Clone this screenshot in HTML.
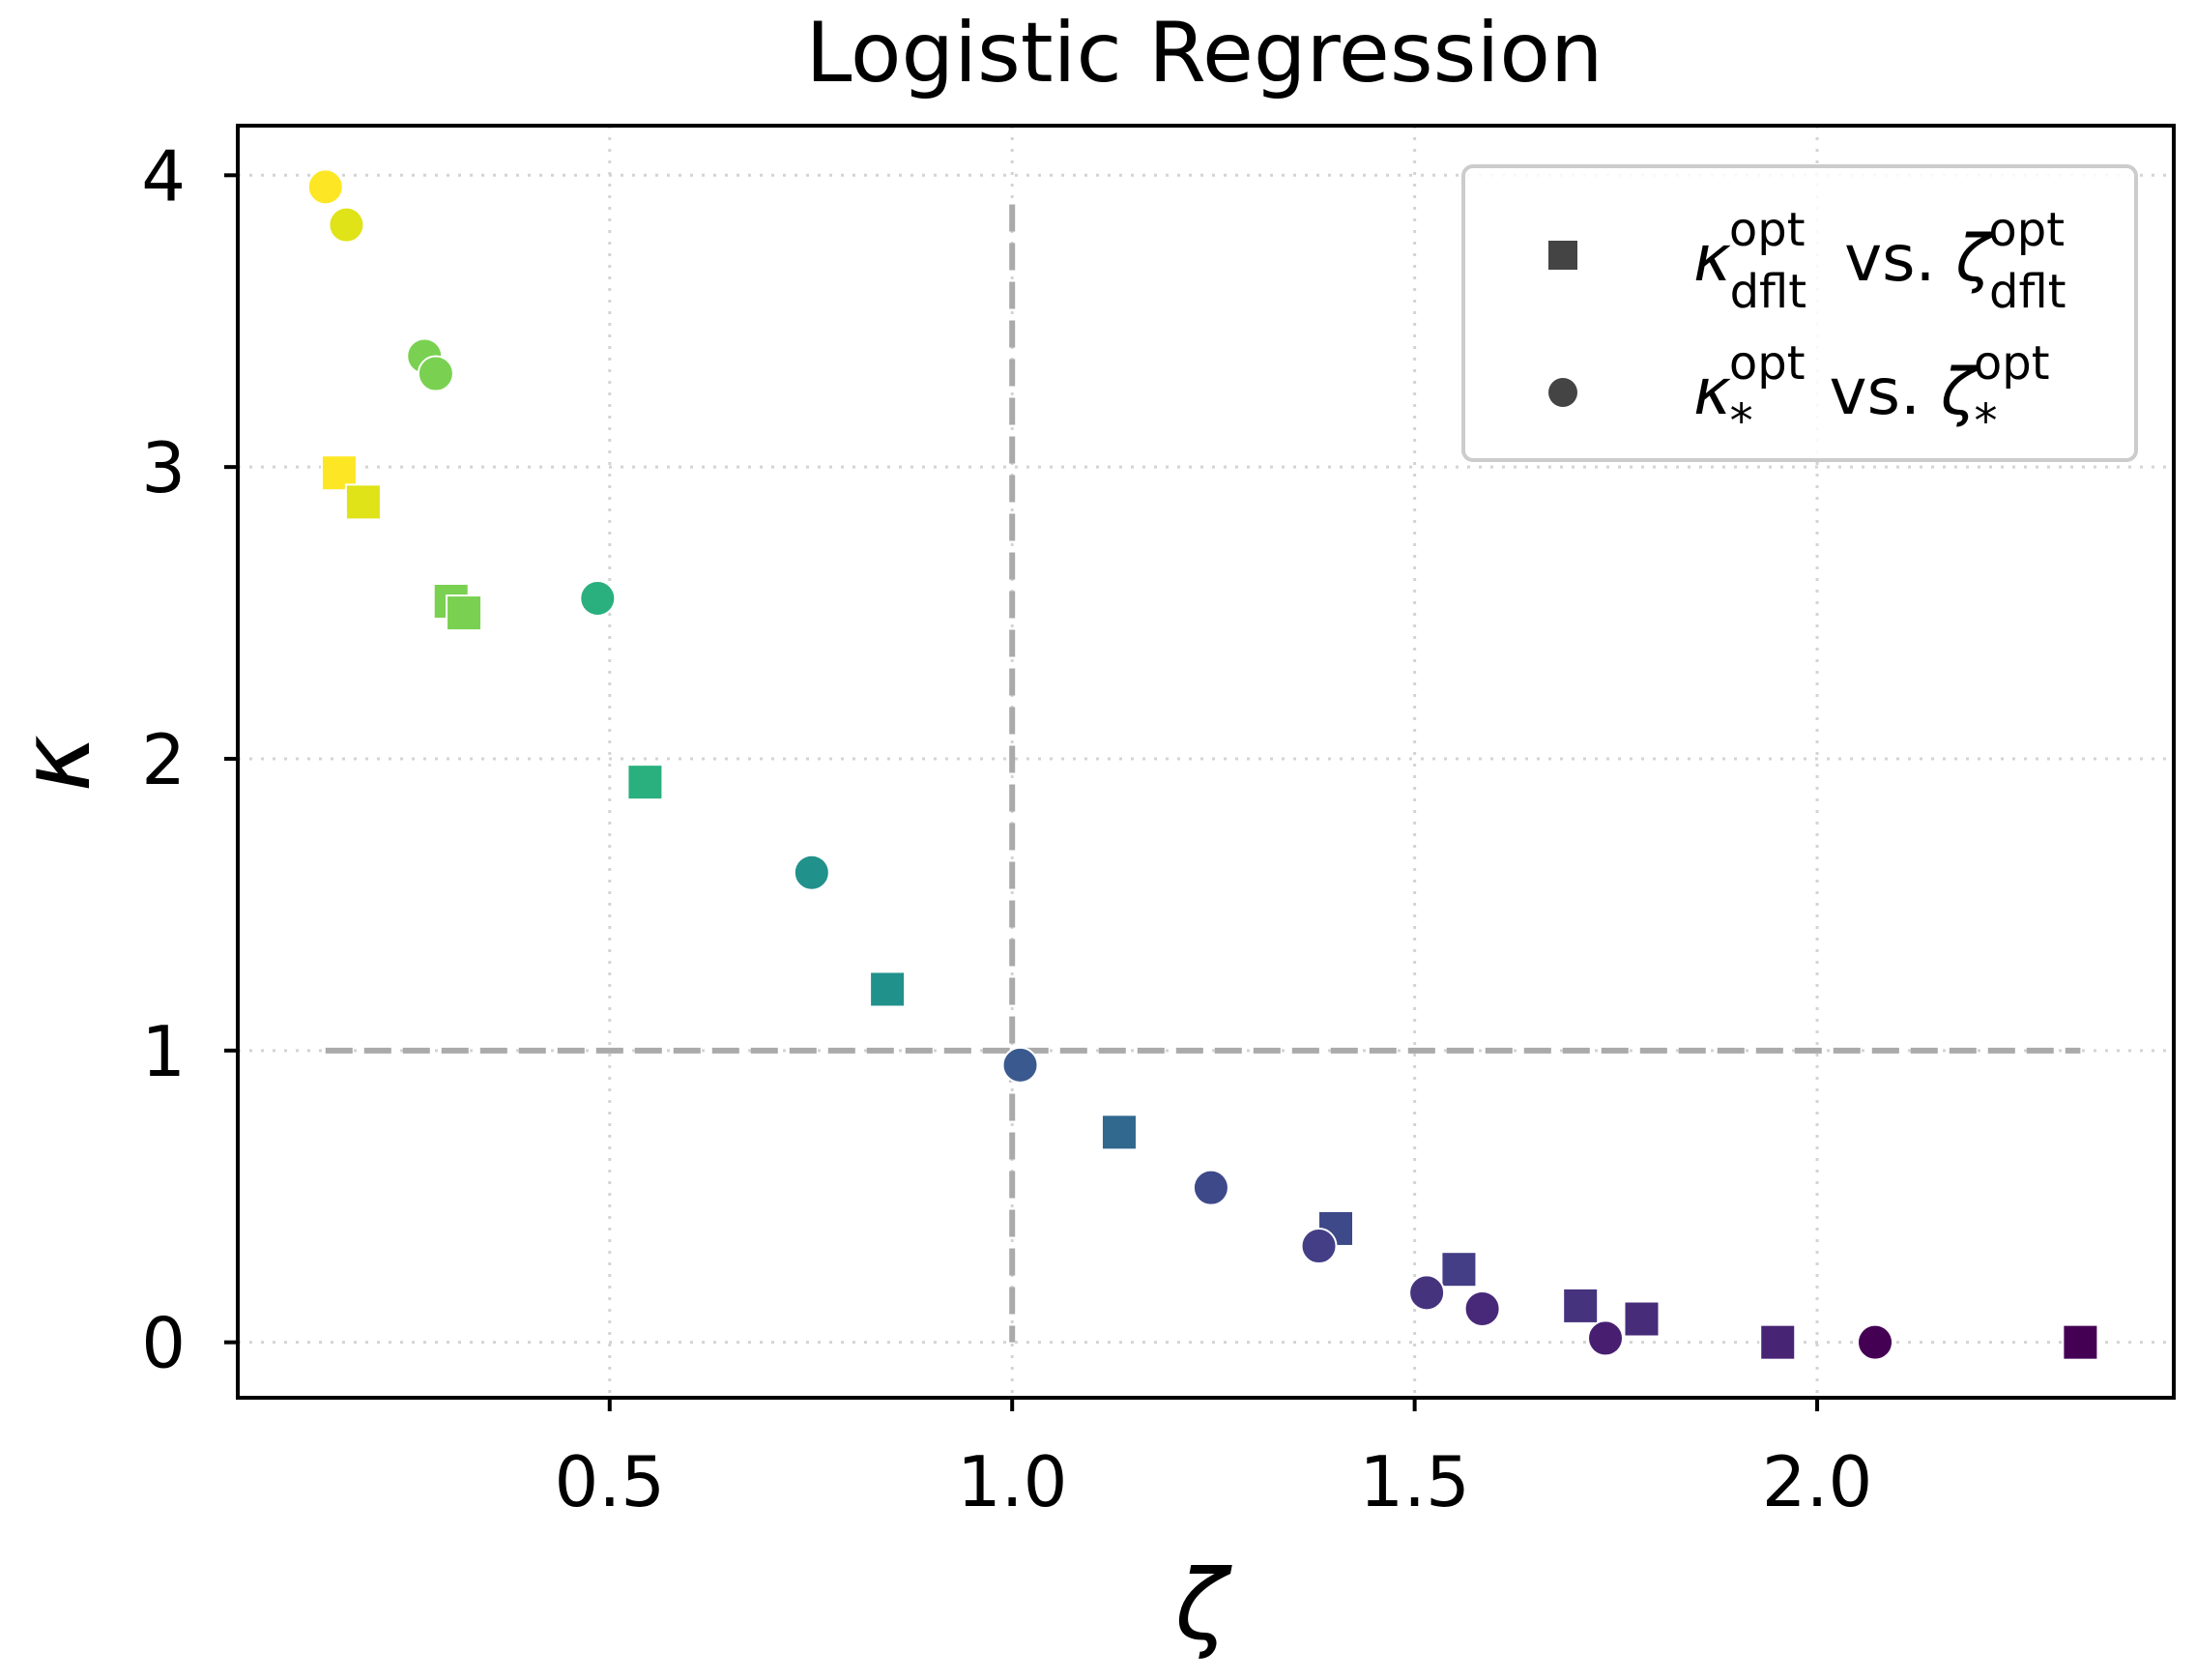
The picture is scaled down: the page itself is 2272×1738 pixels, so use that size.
<!DOCTYPE html>
<html><head><meta charset="utf-8">
<style>
html,body{margin:0;padding:0;background:#fff;}
svg{display:block;font-family:"DejaVu Sans","Liberation Sans",sans-serif;}
</style></head>
<body>
<svg id="chart" width="2272" height="1738" viewBox="0 0 2272 1738">
<text x="1246" y="84" font-size="86" text-anchor="middle" fill="#000">Logistic Regression</text>
<g id="grid"></g>
<g id="refs"></g>
<g id="marks"></g>
<rect x="246" y="130" width="2003" height="1316" fill="none" stroke="#000" stroke-width="4"/>
<g id="axes"></g>
<text x="1243" y="1695" font-size="100" font-style="italic" text-anchor="middle">ζ</text>
<text x="0" y="0" font-size="100" font-style="italic" text-anchor="middle" transform="translate(92,790) rotate(-90)">κ</text>
<g>
<rect x="1514" y="172" width="696" height="304" rx="10" fill="#fff" fill-opacity="0.85" stroke="#ccc" stroke-width="4"/>
<g>
<rect x="1602" y="249" width="30" height="30" fill="#444"/>
<text x="1752" y="290" font-size="66"><tspan font-style="italic">κ</tspan><tspan font-size="48" dy="-36" dx="-2">opt</tspan><tspan font-size="48" dy="64" dx="-78">dflt</tspan><tspan dy="-28" dx="18"> vs. </tspan><tspan font-style="italic">ζ</tspan><tspan font-size="48" dy="-36" dx="-2">opt</tspan><tspan font-size="48" dy="64" dx="-78">dflt</tspan></text>
</g>
<g>
<circle cx="1617" cy="406" r="15" fill="#444"/>
<text x="1752" y="428" font-size="66"><tspan font-style="italic">κ</tspan><tspan font-size="48" dy="-36" dx="-2">opt</tspan><tspan font-size="48" dy="60" dx="-78">*</tspan><tspan dy="-24" dx="58"> vs. </tspan><tspan font-style="italic">ζ</tspan><tspan font-size="48" dy="-36" dx="-2">opt</tspan><tspan font-size="48" dy="60" dx="-78">*</tspan></text>
</g>
</g>
</svg>
<script>
const xTicks = [0.5, 1.0, 1.5, 2.0];
const xTickLabels = ["0.5", "1.0", "1.5", "2.0"];
const yTicks = [0, 1, 2, 3, 4];
const yTickLabels = ["0", "1", "2", "3", "4"];
const circleZeta = [0.147, 0.173, 0.27, 0.284, 0.485, 0.751, 1.01, 1.247, 1.381, 1.515, 1.584, 1.737, 2.072];
const circleKappa = [3.96, 3.83, 3.38, 3.32, 2.55, 1.61, 0.95, 0.53, 0.33, 0.17, 0.115, 0.014, 0.0];
const circleColors = ["#fde725","#dfe318","#7ad151","#7ad151","#2ab07f","#21918c","#3a5a8f","#3e4989","#433e85","#46337e","#482878","#481f70","#440154"];
const squareZeta = [0.164, 0.194, 0.303, 0.319, 0.544, 0.845, 1.133, 1.402, 1.555, 1.706, 1.782, 1.951, 2.327];
const squareKappa = [2.98, 2.88, 2.54, 2.50, 1.92, 1.21, 0.72, 0.39, 0.25, 0.125, 0.08, 0.0, 0.0];
const squareColors = ["#fde725","#dfe318","#7ad151","#7ad151","#2ab07f","#21918c","#31688e","#3e4989","#433e85","#46337e","#472c7a","#482475","#440154"];

const NS = "http://www.w3.org/2000/svg";
const L = 246, R = 2249, T = 130, B = 1446;
const xMin = 0.038, xMax = 2.443, yMin = -0.19, yMax = 4.17;
const sx = v => L + (v - xMin) / (xMax - xMin) * (R - L);
const sy = v => B - (v - yMin) / (yMax - yMin) * (B - T);
function mk(tag, attrs, parent) {
  const e = document.createElementNS(NS, tag);
  for (const k in attrs) e.setAttribute(k, attrs[k]);
  parent.appendChild(e);
  return e;
}
const grid = document.getElementById("grid");
const axes = document.getElementById("axes");
const refs = document.getElementById("refs");
const marks = document.getElementById("marks");

xTicks.forEach((t, i) => {
  const x = sx(t);
  const g = mk("line", {x1: x, x2: x, y1: T, y2: B, stroke: "#d4d4d4", "stroke-width": 3, "stroke-dasharray": "3 9"}, grid);
  
  
  const tk = mk("line", {x1: x, x2: x, y1: B, y2: B + 14, stroke: "#000", "stroke-width": 4}, axes);
  
  
  const tx = mk("text", {x: x, y: B + 112, "font-size": 72, "text-anchor": "middle"}, axes);
  tx.textContent = xTickLabels[i];
  
  
});
yTicks.forEach((t, i) => {
  const y = sy(t);
  const g = mk("line", {x1: L, x2: R, y1: y, y2: y, stroke: "#d4d4d4", "stroke-width": 3, "stroke-dasharray": "3 9"}, grid);
  
  
  const tk = mk("line", {x1: L - 14, x2: L, y1: y, y2: y, stroke: "#000", "stroke-width": 4}, axes);
  
  
  const tx = mk("text", {x: L - 54, y: y + 26, "font-size": 72, "text-anchor": "end"}, axes);
  tx.textContent = yTickLabels[i];
  
  
});

const vl = mk("line", {x1: sx(1.0), x2: sx(1.0), y1: sy(3.9), y2: sy(0), stroke: "#aaa", "stroke-width": 6, "stroke-dasharray": "28 12"}, refs);


const hl = mk("line", {x1: sx(0.147), x2: sx(2.327), y1: sy(1), y2: sy(1), stroke: "#aaa", "stroke-width": 6, "stroke-dasharray": "28 12"}, refs);



squareZeta.forEach((z, i) => {
  const s = 36;
  const r = mk("rect", {x: sx(z) - s/2, y: sy(squareKappa[i]) - s/2, width: s, height: s, fill: squareColors[i], stroke: "#fff", "stroke-width": 2}, marks);
  
  
});
circleZeta.forEach((z, i) => {
  const c = mk("circle", {cx: sx(z), cy: sy(circleKappa[i]), r: 18, fill: circleColors[i], stroke: "#fff", "stroke-width": 2}, marks);
  
  
});
</script>
</body></html>
